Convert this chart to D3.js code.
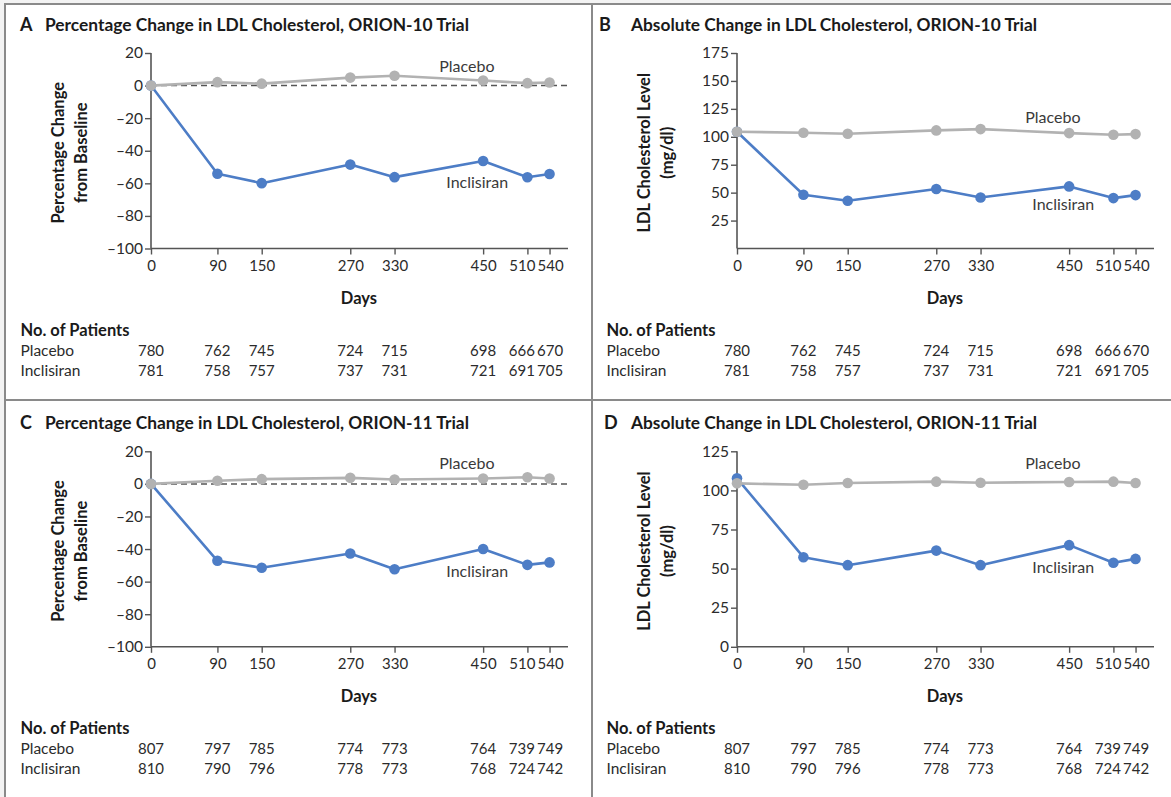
<!DOCTYPE html>
<html>
<head>
<meta charset="utf-8">
<script src="https://cdn.jsdelivr.net/npm/d3@7"></script>
<style>
  body { margin: 0; background: #f3f3f3; }
  svg { display: block; font-family: Lato, "Open Sans", sans-serif; }
</style>
</head>
<body>
<svg id="chart" width="1171" height="797"></svg>
<script>
// Study visit days (x axis) shared by all four panels
const days = [0, 90, 150, 270, 330, 450, 510, 540];

// ORION-10: percentage change from baseline
const pct10Placebo    = [0, 2.1, 1.2, 4.9, 6.0, 3.1, 1.5, 1.9];
const pct10Inclisiran = [0, -54.1, -59.9, -48.5, -56.2, -46.3, -56.3, -54.3];

// ORION-10: LDL cholesterol level (mg/dl)
const abs10Placebo    = [104.5, 103.6, 102.7, 105.7, 106.9, 103.3, 101.8, 102.4];
const abs10Inclisiran = [104.5, 48.1, 42.7, 53.2, 45.7, 55.6, 45.1, 47.8];

// ORION-11: percentage change from baseline
const pct11Placebo    = [0, 1.9, 2.9, 3.7, 2.7, 3.3, 4.1, 3.3];
const pct11Inclisiran = [0, -47.2, -51.5, -42.7, -52.4, -40.0, -49.7, -48.2];

// ORION-11: LDL cholesterol level (mg/dl)
const abs11Placebo    = [104.5, 103.6, 104.7, 105.6, 104.9, 105.4, 105.6, 104.7];
const abs11Inclisiran = [107.7, 57.3, 52.2, 61.5, 52.2, 65.0, 53.7, 56.2];

// Number of patients at each visit
const n10Placebo    = [780, 762, 745, 724, 715, 698, 666, 670];
const n10Inclisiran = [781, 758, 757, 737, 731, 721, 691, 705];
const n11Placebo    = [807, 797, 785, 774, 773, 764, 739, 749];
const n11Inclisiran = [810, 790, 796, 778, 773, 768, 724, 742];

// Axis tick values
const pctTicks = [20, 0, -20, -40, -60, -80, -100];
const abs10Ticks = [25, 50, 75, 100, 125, 150, 175];
const abs11Ticks = [0, 25, 50, 75, 100, 125];

const BLUE = "#4d7dc6";
const GRAY = "#b2b2b2";
const INK = "#2b2b2b";
const AXIS = "#555";

// the last two visits sit close together, so their labels are nudged apart
const nudge = d => (d === 510 ? -5.5 : d === 540 ? 0.5 : 0);
// negative ticks use an en dash, as in the journal style
const fmtTick = d => (d < 0 ? "\u2013" + Math.abs(d) : String(d));

const panels = [
  { letter: "A", letterX: 20, title: "Percentage Change in LDL Cholesterol, ORION-10 Trial", titleW: 424,
    ox: 0, oy: 0, yDomain: [-100, 20], yTicks: pctTicks, zeroLine: true,
    yLabel: ["Percentage Change", "from Baseline"],
    placebo: pct10Placebo, inclisiran: pct10Inclisiran,
    nPlacebo: n10Placebo, nInclisiran: n10Inclisiran,
    placeboLabel: [428, 8.5], inclisiranLabel: [442, -62.9] },
  { letter: "B", letterX: 13, title: "Absolute Change in LDL Cholesterol, ORION-10 Trial", titleW: 406,
    ox: 586, oy: 0, yDomain: [0, 175], yTicks: abs10Ticks, zeroLine: false,
    yLabel: ["LDL Cholesterol Level", "(mg/dl)"],
    placebo: abs10Placebo, inclisiran: abs10Inclisiran,
    nPlacebo: n10Placebo, nInclisiran: n10Inclisiran,
    placeboLabel: [428, 112.3], inclisiranLabel: [442, 34.9] },
  { letter: "C", letterX: 20, title: "Percentage Change in LDL Cholesterol, ORION-11 Trial", titleW: 424,
    ox: 0, oy: 398.3, yDomain: [-100, 20], yTicks: pctTicks, zeroLine: true,
    yLabel: ["Percentage Change", "from Baseline"],
    placebo: pct11Placebo, inclisiran: pct11Inclisiran,
    nPlacebo: n11Placebo, nInclisiran: n11Inclisiran,
    placeboLabel: [428, 9.2], inclisiranLabel: [442, -57.1] },
  { letter: "D", letterX: 18, title: "Absolute Change in LDL Cholesterol, ORION-11 Trial", titleW: 406,
    ox: 586, oy: 398.3, yDomain: [0, 125], yTicks: abs11Ticks, zeroLine: false,
    yLabel: ["LDL Cholesterol Level", "(mg/dl)"],
    placebo: abs11Placebo, inclisiran: abs11Inclisiran,
    nPlacebo: n11Placebo, nInclisiran: n11Inclisiran,
    placeboLabel: [428, 113.9], inclisiranLabel: [442, 47.2] }
];

const svg = d3.select("#chart");

// page frame
svg.append("rect").attr("x", 5).attr("y", 4).attr("width", 1166).attr("height", 793).attr("fill", "#fff");
const frame = svg.append("g").attr("stroke", "#8a8a8a").attr("stroke-width", 2).attr("fill", "none");
frame.append("line").attr("x1", 4).attr("x2", 1171).attr("y1", 4).attr("y2", 4);
frame.append("line").attr("x1", 5).attr("x2", 5).attr("y1", 4).attr("y2", 797);
frame.append("line").attr("x1", 592).attr("x2", 592).attr("y1", 4).attr("y2", 797);
frame.append("line").attr("x1", 5).attr("x2", 1171).attr("y1", 400).attr("y2", 400);

// plot area, in panel-local pixels
const X0 = 151, X1 = 568, YTOP = 53, YBOT = 248.5;

panels.forEach(p => {
  const g = svg.append("g").attr("transform", `translate(${p.ox},${p.oy})`);

  const x = d3.scaleLinear().domain([0, 565]).range([X0, X1]);
  const y = d3.scaleLinear().domain(p.yDomain).range([YBOT, YTOP]);

  // title
  g.append("text").attr("x", p.letterX).attr("y", 31)
    .attr("font-size", 18).attr("font-weight", 700).attr("fill", "#1a1a1a").text(p.letter);
  g.append("text").attr("x", 45).attr("y", 31)
    .attr("font-size", 16.5).attr("font-weight", 700).attr("fill", "#1a1a1a")
    .attr("textLength", p.titleW).attr("lengthAdjust", "spacingAndGlyphs").text(p.title);

  // y axis
  const yAxis = g.append("g").attr("transform", `translate(${X0},0)`)
    .call(d3.axisLeft(y).tickValues(p.yTicks).tickFormat(fmtTick).tickSize(6).tickPadding(2).tickSizeOuter(0));
  // x axis
  const xAxis = g.append("g").attr("transform", `translate(0,${YBOT})`)
    .call(d3.axisBottom(x).tickValues(days).tickSize(6).tickPadding(6).tickSizeOuter(0));

  [yAxis, xAxis].forEach(a => {
    a.select(".domain").attr("stroke", AXIS).attr("stroke-width", 1.6);
    a.selectAll(".tick line").attr("stroke", AXIS).attr("stroke-width", 1.4);
    a.selectAll(".tick text").attr("fill", INK).attr("font-size", 15)
      .attr("font-family", "Lato, 'Open Sans', sans-serif");
  });
  yAxis.selectAll(".tick text").attr("font-size", 15.5);
  xAxis.selectAll(".tick text").attr("dx", d => nudge(d));
  // extend the vertical axis down to the horizontal one
  yAxis.select(".domain").attr("d", `M0,${YTOP}V${YBOT}`);
  xAxis.select(".domain").attr("d", `M${X0},0H${X1}`);

  // dashed reference at 0%
  if (p.zeroLine) {
    g.append("line").attr("x1", X0).attr("x2", X1).attr("y1", y(0)).attr("y2", y(0))
      .attr("stroke", "#555").attr("stroke-width", 1.5).attr("stroke-dasharray", "6,4");
  }

  // y-axis label (two lines)
  const ly = (YTOP + YBOT) / 2 + 2;
  p.yLabel.forEach((t, i) => {
    g.append("text")
      .attr("transform", `translate(${58 + i * 23},${ly}) rotate(-90)`)
      .attr("text-anchor", "middle").attr("dominant-baseline", "central")
      .attr("font-size", 16.5).attr("font-weight", 700).attr("fill", "#1a1a1a").text(t);
  });

  // x-axis label
  g.append("text").attr("x", 359).attr("y", 304).attr("text-anchor", "middle")
    .attr("font-size", 16.5).attr("font-weight", 700).attr("fill", "#1a1a1a").text("Days");

  // series: inclisiran underneath, placebo on top
  const line = d3.line().x((d, i) => x(days[i])).y(d => y(d));
  [[p.inclisiran, BLUE], [p.placebo, GRAY]].forEach(([vals, col]) => {
    g.append("path").datum(vals).attr("d", line)
      .attr("fill", "none").attr("stroke", col).attr("stroke-width", 2.6).attr("stroke-linejoin", "round");
    g.selectAll(null).data(vals).join("circle")
      .attr("cx", (d, i) => x(days[i])).attr("cy", d => y(d)).attr("r", 5.3).attr("fill", col);
  });

  // series labels
  g.append("text").attr("x", x(p.placeboLabel[0])).attr("y", y(p.placeboLabel[1]))
    .attr("text-anchor", "middle").attr("font-size", 16).attr("fill", "#3a3a3a").text("Placebo");
  g.append("text").attr("x", x(p.inclisiranLabel[0])).attr("y", y(p.inclisiranLabel[1]))
    .attr("text-anchor", "middle").attr("font-size", 16).attr("fill", "#3a3a3a").text("Inclisiran");

  // number-at-risk table
  g.append("text").attr("x", 20.5).attr("y", 336)
    .attr("font-size", 16.5).attr("font-weight", 700).attr("fill", "#1a1a1a").text("No. of Patients");
  [["Placebo", p.nPlacebo, 356], ["Inclisiran", p.nInclisiran, 376]].forEach(([name, vals, yy]) => {
    g.append("text").attr("x", 20.5).attr("y", yy)
      .attr("font-size", 15.5).attr("fill", INK).text(name);
    g.selectAll(null).data(vals).join("text")
      .attr("x", (d, i) => x(days[i]) + nudge(days[i])).attr("y", yy).attr("text-anchor", "middle")
      .attr("font-size", 15).attr("fill", INK).text(d => d);
  });
});
</script>
</body>
</html>
